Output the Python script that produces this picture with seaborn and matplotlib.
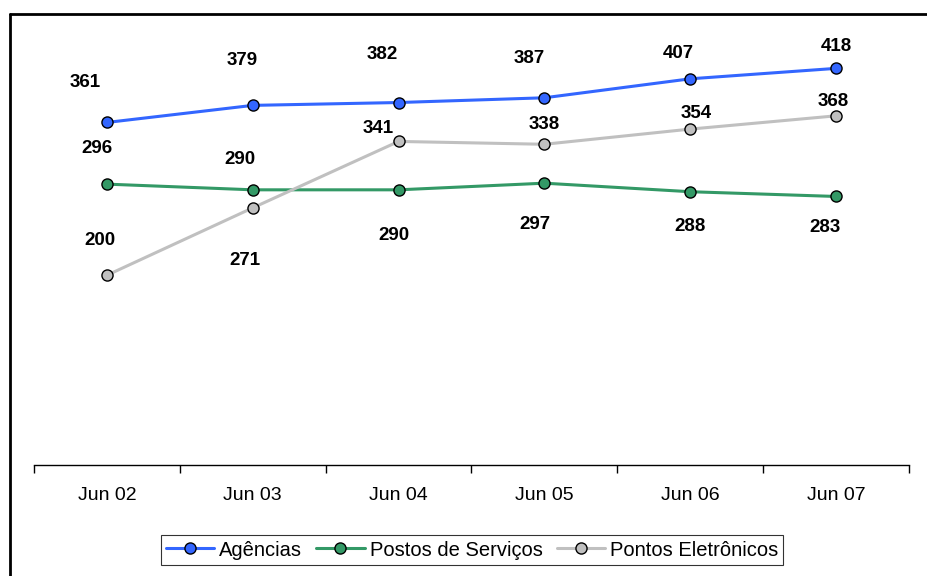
import matplotlib
matplotlib.use("Agg")
import matplotlib.pyplot as plt
from matplotlib.lines import Line2D
from matplotlib.ticker import FixedLocator
import pandas as pd
import seaborn as sns

# Data
anos = ['Jun 02', 'Jun 03', 'Jun 04', 'Jun 05', 'Jun 06', 'Jun 07']
agencias = [361, 379, 382, 387, 407, 418]
postos = [296, 290, 290, 297, 288, 283]
pontos = [200, 271, 341, 338, 354, 368]
series = ['Agências', 'Postos de Serviços', 'Pontos Eletrônicos']
cores = ['#3366ff', '#339966', '#c0c0c0']

# label offsets in pixels (dx, dy), as placed in the original chart
off_agencias = [(-22, 40), (-11, 45), (-16, 48), (-15, 39), (-12, 25), (0, 22)]
off_postos = [(-10, 36), (-13, 30), (-5, -46), (-9, -41), (0, -35), (-11, -31)]
off_pontos = [(-7, 35), (-8, -53), (-20, 13), (0, 20), (6, 16), (-3, 14)]

df = pd.DataFrame({
    'ano': anos * 3,
    'valor': agencias + postos + pontos,
    'serie': [series[0]] * 6 + [series[1]] * 6 + [series[2]] * 6,
})

sns.set_style('white')
plt.rcParams['font.family'] = ['Liberation Sans', 'DejaVu Sans']
plt.rcParams['text.color'] = 'black'
plt.rcParams['xtick.color'] = 'black'

fig = plt.figure(figsize=(9.27, 5.76), dpi=100)
W, H = 927, 576
ax = fig.add_axes([34 / W, (H - 465) / H, (909 - 34) / W, (465 - 38) / H])

sns.lineplot(data=df, x='ano', y='valor', hue='serie', hue_order=series,
             palette=cores, marker='o', markersize=8, markeredgecolor='black',
             markeredgewidth=1.0, linewidth=2.2, legend=False, ax=ax)

for vals, offs in [(agencias, off_agencias), (postos, off_postos), (pontos, off_pontos)]:
    for i, (v, o) in enumerate(zip(vals, offs)):
        ax.annotate(str(v), (i, v), xytext=o, textcoords='offset pixels',
                    ha='center', va='center', fontsize=13.5, fontweight='bold',
                    color='black')

ax.set_ylim(0, 450)
ax.set_xlim(-0.5, 5.5)
ax.set_xlabel('')
ax.set_ylabel('')
ax.set_yticks([])
for s in ['top', 'right', 'left']:
    ax.spines[s].set_visible(False)
ax.spines['bottom'].set_color('black')
ax.spines['bottom'].set_linewidth(1.0)

ax.xaxis.set_minor_locator(FixedLocator([i - 0.5 for i in range(7)]))
ax.tick_params(axis='x', which='major', length=0, labelsize=14, pad=16,
               labelcolor='black')
ax.tick_params(axis='x', which='minor', length=6, width=1, color='black', bottom=True)
ax.grid(False)

handles = [Line2D([], [], color=c, marker='o', markersize=8, markeredgecolor='black',
                  linewidth=2.2) for c in cores]
leg = fig.legend(handles, series, loc='center', bbox_to_anchor=(472 / W, 1 - 550 / H),
                 ncol=3, fontsize=14.5, frameon=True, fancybox=False, handlelength=2.4,
                 handletextpad=0.25, columnspacing=0.7, borderpad=0.25,
                 labelcolor='black')
leg.get_frame().set_edgecolor('black')
leg.get_frame().set_linewidth(0.8)

# outer chart border (left and top edges visible; the rest is cropped)
fig.add_artist(Line2D([10 / W, 10 / W], [0, 1 - 14 / H], color='black', linewidth=2,
                      transform=fig.transFigure))
fig.add_artist(Line2D([10 / W, 1], [1 - 14 / H, 1 - 14 / H], color='black', linewidth=2,
                      transform=fig.transFigure))

fig.savefig('out.png', dpi=100)
